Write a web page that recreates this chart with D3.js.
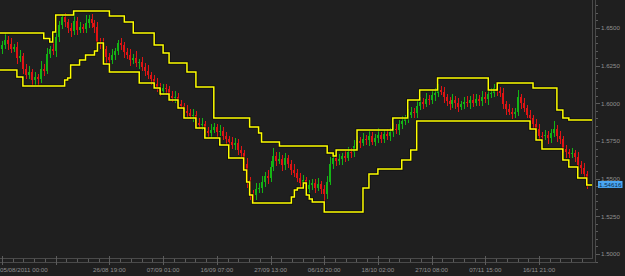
<!DOCTYPE html>
<html>
<head>
<meta charset="utf-8">
<script src="https://cdn.jsdelivr.net/npm/d3@7"></script>
<style>
    html, body { margin: 0; padding: 0; background: #1f1f1f; }
    svg { display: block; }
    text { font-family: "Liberation Sans", Arial, sans-serif; font-size: 6.2px; fill: #909090; }
</style>
</head>
<body>
<svg id="chart" width="625" height="276"></svg>
<script>
    // prices in pips (price * 10000), one candle per step
    const firstOpen = 16360;
    const closes = [
        16387, 16420, 16394, 16362, 16375, 16300, 16312, 16228, 16190, 16205,
        16155, 16172, 16160, 16230, 16215, 16330, 16360, 16345, 16440, 16520,
        16570, 16540, 16500, 16478, 16545, 16490, 16505, 16495, 16535, 16560,
        16530, 16505, 16410, 16395, 16360, 16305, 16285, 16320, 16345, 16400,
        16385, 16340, 16320, 16285, 16300, 16268, 16275, 16240, 16215, 16190,
        16160, 16130, 16110, 16080, 16100, 16095, 16050, 16035, 16045, 15995,
        15985, 15950, 15935, 15915, 15925, 15870, 15855, 15862, 15815, 15805,
        15825, 15840, 15810, 15815, 15780, 15760, 15745, 15725, 15735, 15690,
        15670, 15600, 15490, 15400, 15390, 15430, 15440, 15475, 15520, 15505,
        15580, 15650, 15620, 15630, 15590, 15635, 15595, 15560, 15540, 15505,
        15470, 15490, 15430, 15455, 15470, 15440, 15465, 15430, 15395, 15480,
        15600, 15640, 15615, 15628, 15650, 15640, 15680, 15675, 15715, 15750,
        15740, 15765, 15755, 15780, 15745, 15770, 15790, 15765, 15795, 15780,
        15810, 15830, 15820, 15865, 15880, 15900, 15925, 15945, 15935, 15980,
        16010, 15995, 16030, 16020, 16055, 16070, 16090, 16075, 16040, 16015,
        15995, 16025, 16000, 15975, 15995, 16010, 16000, 16025, 16005, 16030,
        16015, 16045, 16030, 16060, 16070, 16100, 16085, 16070, 15995, 15960,
        15945, 15930, 15940, 16040, 16000, 15970, 15925, 15900, 15860, 15830,
        15785, 15780, 15790, 15770, 15800, 15830, 15780, 15760, 15695, 15675,
        15665, 15670, 15645, 15590, 15570, 15530, 15462
    ];
    const wickUp = [
        30, 47, 25, 38, 22, 35, 45, 20, 30, 40,
        25, 35, 22, 50, 30, 38, 20, 45, 35, 25,
        16, 30, 22, 35, 68, 25, 38, 20, 50, 26,
        30, 22, 35, 25, 40, 20, 30, 38, 25, 20,
        35, 20, 30, 40, 25, 45, 22, 32, 25, 38,
        20, 30, 35, 25, 28, 30, 22, 35, 40, 25,
        30, 20, 38, 25, 35, 22, 30, 40, 20, 25,
        35, 30, 22, 38, 25, 32, 20, 30, 38, 25,
        30, 22, 35, 20, 25, 38, 30, 45, 25, 35,
        40, 53, 30, 45, 25, 35, 22, 30, 38, 25,
        30, 35, 22, 38, 25, 30, 40, 20, 25, 35,
        45, 30, 25, 38, 22, 35, 30, 25, 40, 30,
        25, 35, 22, 38, 30, 25, 45, 22, 30, 35,
        25, 38, 30, 22, 35, 25, 40, 30, 22, 35,
        30, 25, 38, 22, 35, 30, 38, 25, 35, 22,
        30, 38, 25, 35, 22, 30, 40, 25, 35, 30,
        22, 38, 30, 25, 35, 30, 35, 25, 30, 22,
        35, 25, 30, 49, 25, 35, 22, 30, 25, 38,
        30, 22, 35, 25, 30, 53, 25, 35, 22, 30,
        25, 35, 22, 30, 25, 35, 22
    ];
    const wickDn = [
        35, 25, 40, 30, 22, 38, 25, 35, 30, 30,
        38, 30, 45, 25, 35, 22, 30, 25, 38, 30,
        25, 35, 30, 40, 25, 35, 22, 30, 25, 35,
        30, 38, 25, 35, 30, 45, 40, 25, 30, 22,
        30, 38, 25, 35, 22, 30, 38, 25, 35, 30,
        40, 25, 35, 30, 22, 38, 30, 25, 35, 30,
        25, 35, 30, 22, 38, 30, 25, 35, 22, 30,
        38, 25, 35, 30, 22, 35, 30, 25, 38, 30,
        35, 45, 50, 40, 45, 30, 25, 35, 30, 38,
        25, 30, 35, 22, 38, 30, 25, 35, 30, 25,
        35, 30, 38, 25, 30, 35, 22, 30, 70, 30,
        25, 35, 30, 22, 35, 30, 25, 38, 30, 22,
        35, 25, 30, 38, 22, 30, 35, 25, 30, 22,
        30, 35, 25, 30, 38, 22, 30, 25, 35, 30,
        25, 35, 22, 30, 25, 38, 30, 22, 35, 30,
        38, 25, 35, 30, 22, 30, 25, 35, 30, 25,
        35, 30, 25, 38, 22, 30, 35, 25, 30, 38,
        25, 35, 30, 25, 38, 30, 25, 35, 30, 25,
        35, 30, 25, 38, 30, 22, 35, 30, 25, 35,
        30, 25, 35, 30, 38, 25, 30
    ];
    // channel steps: [candle index, pips]
    const upperBand = [
        [-1, 16467], [14, 16430], [16, 16407], [17, 16474], [18, 16586], [24, 16613],
        [36, 16580], [41, 16540], [44, 16467], [51, 16387], [54, 16334], [56, 16268],
        [62, 16208], [65, 16109], [71, 15903], [83, 15843], [86, 15803], [87, 15743],
        [93, 15717], [109, 15670], [111, 15651], [112, 15690], [119, 15823], [131, 15903],
        [136, 16022], [140, 16089], [146, 16168], [163, 16089], [166, 16135], [178, 16102],
        [186, 15956], [188, 15903], [190, 15890], [199, 15890]
    ];
    const lowerBand = [
        [-1, 16221], [5, 16175], [7, 16115], [21, 16155], [22, 16168], [23, 16254],
        [26, 16288], [28, 16321], [31, 16347], [32, 16400], [34, 16261], [36, 16208],
        [46, 16135], [51, 16102], [53, 16062], [56, 16022], [59, 15969], [61, 15903],
        [65, 15836], [68, 15770], [73, 15724], [76, 15637], [81, 15558], [82, 15478],
        [83, 15392], [84, 15339], [97, 15378], [98, 15425], [99, 15438], [101, 15471],
        [102, 15392], [103, 15365], [104, 15345], [108, 15279], [121, 15438], [123, 15531],
        [126, 15564], [134, 15624], [137, 15690], [139, 15883], [177, 15830], [179, 15757],
        [181, 15697], [188, 15624], [190, 15578], [193, 15505], [196, 15458], [199, 15458]
    ];
    const timeTicks = [0, 18, 36, 54, 72, 90, 108, 126, 144, 162, 180];
    const timeLabels = ["05/08/2011 00:00", "", "26/08 19:00", "07/09 01:00", "16/09 07:00",
        "27/09 13:00", "06/10 20:00", "18/10 02:00", "27/10 08:00", "07/11 15:00", "16/11 21:00"];
    const priceTicks = [1.5, 1.525, 1.55, 1.575, 1.6, 1.625, 1.65];
    const lastPrice = 1.54616;

    const plotRight = 592, plotBottom = 258;
    const svg = d3.select("#chart");

    const x = d3.scaleLinear().domain([0, 180]).range([2, 539]);
    const y = d3.scaleLinear().domain([1.5, 1.65]).range([254, 28]);

    svg.append("defs").append("clipPath").attr("id", "plotClip")
        .append("rect").attr("width", plotRight).attr("height", plotBottom);

    const candles = closes.map((c, i) => {
        const o = i ? closes[i - 1] : firstOpen;
        return {
            i: i,
            o: o / 1e4, c: c / 1e4,
            h: (Math.max(o, c) + wickUp[i]) / 1e4,
            l: (Math.min(o, c) - wickDn[i]) / 1e4
        };
    });

    const g = svg.append("g").attr("clip-path", "url(#plotClip)");

    const cg = g.selectAll(".candle")
        .data(candles)
        .enter().append("g")
        .attr("class", "candle")
        .attr("fill", d => d.c >= d.o ? "#14b414" : "#e01414")
        .attr("shape-rendering", "crispEdges");

    cg.append("rect")
        .attr("x", d => Math.round(x(d.i)))
        .attr("width", 1)
        .attr("y", d => y(d.h))
        .attr("height", d => y(d.l) - y(d.h));

    cg.append("rect")
        .attr("x", d => Math.round(x(d.i)) - 1)
        .attr("width", 2)
        .attr("y", d => y(Math.max(d.o, d.c)))
        .attr("height", d => Math.max(1, Math.abs(y(d.o) - y(d.c))));

    const band = d3.line()
        .x(d => x(d[0]))
        .y(d => y(d[1] / 1e4))
        .curve(d3.curveStepAfter);

    [upperBand, lowerBand].forEach(b => {
        g.append("path").attr("d", band(b))
            .attr("fill", "none").attr("stroke", "#000").attr("stroke-opacity", 0.6).attr("stroke-width", 3);
        g.append("path").attr("d", band(b))
            .attr("fill", "none").attr("stroke", "#ffff00").attr("stroke-width", 1.5);
    });

    // frame
    const frame = svg.append("g").attr("stroke", "#4a4a4a").attr("shape-rendering", "crispEdges");
    frame.append("line").attr("x1", plotRight + 0.5).attr("x2", plotRight + 0.5).attr("y1", 0).attr("y2", plotBottom + 0.5);
    frame.append("line").attr("x1", 0).attr("x2", plotRight + 0.5).attr("y1", plotBottom + 0.5).attr("y2", plotBottom + 0.5);
    frame.append("line").attr("x1", 595.5).attr("x2", 595.5).attr("y1", 0).attr("y2", 262.5);
    frame.append("line").attr("x1", 0).attr("x2", 595.5).attr("y1", 262.5).attr("y2", 262.5);

    // right price axis
    const yAxis = svg.append("g").attr("stroke", "#5c5c5c").attr("shape-rendering", "crispEdges");
    yAxis.selectAll("line")
        .data(d3.range(1.495, 1.6751, 0.005))
        .enter().append("line")
        .attr("x1", 596).attr("x2", d => Math.abs(d * 40 - Math.round(d * 40)) < 1e-6 ? 600 : 598)
        .attr("y1", d => Math.round(y(d)) + 0.5).attr("y2", d => Math.round(y(d)) + 0.5);

    svg.append("g").selectAll("text")
        .data(priceTicks)
        .enter().append("text")
        .attr("x", 601).attr("y", d => y(d) + 2.2)
        .text(d => d.toFixed(4));

    // bottom time axis
    const xAxis = svg.append("g").attr("stroke", "#5c5c5c").attr("shape-rendering", "crispEdges");
    xAxis.selectAll("line.minor")
        .data(d3.range(0, 197, 3.6))
        .enter().append("line")
        .attr("x1", d => Math.round(x(d)) + 0.5).attr("x2", d => Math.round(x(d)) + 0.5)
        .attr("y1", 259).attr("y2", 262);
    xAxis.selectAll("line.major")
        .data(timeTicks)
        .enter().append("line")
        .attr("x1", d => Math.round(x(d)) + 0.5).attr("x2", d => Math.round(x(d)) + 0.5)
        .attr("y1", 256).attr("y2", 265);

    svg.append("g").selectAll("text")
        .data(timeTicks)
        .enter().append("text")
        .attr("x", (d, i) => i === 0 ? 0 : x(d))
        .attr("y", 272)
        .attr("text-anchor", (d, i) => i === 0 ? "start" : "middle")
        .text((d, i) => timeLabels[i]);

    // last price marker
    svg.append("rect")
        .attr("x", 598).attr("y", y(lastPrice) - 3.5)
        .attr("width", 24.5).attr("height", 7)
        .attr("fill", "#4aa6f2");
    svg.append("text")
        .attr("x", 599).attr("y", y(lastPrice) + 2.2)
        .style("fill", "#0c2c4e")
        .text(lastPrice.toFixed(5));
</script>
</body>
</html>
